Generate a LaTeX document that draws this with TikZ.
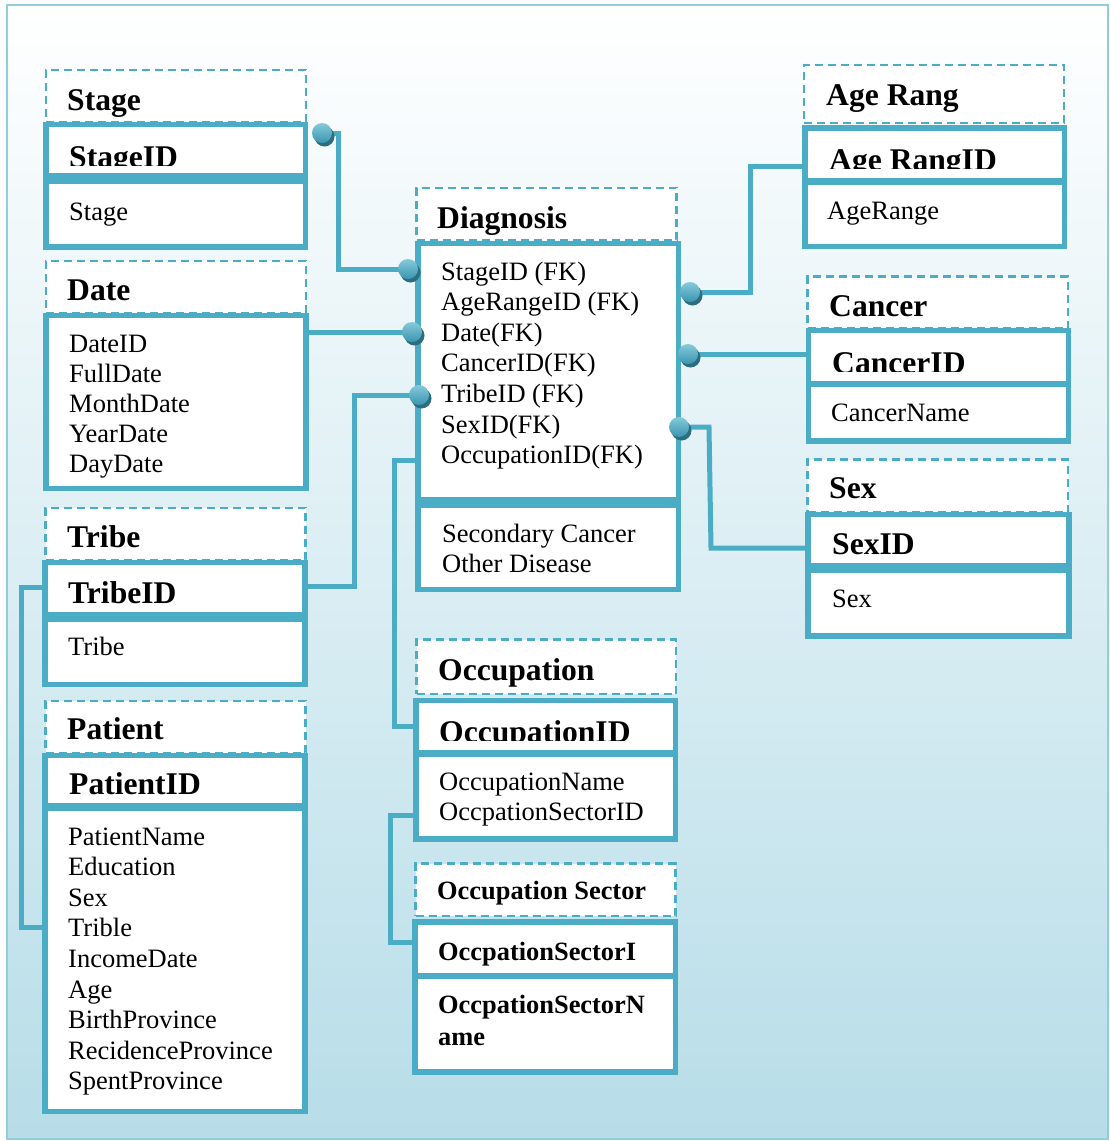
\documentclass[tikz,border=0pt]{standalone}
\usepackage{fontspec}
\setmainfont{Liberation Serif}
\usetikzlibrary{calc}

\definecolor{erline}{HTML}{4BACC6}
\definecolor{erframe}{HTML}{92CDDC}
\definecolor{erbottom}{HTML}{B7DDE8}
\definecolor{erdotlight}{HTML}{86CADB}
\definecolor{erdotdark}{HTML}{3A95AE}
\definecolor{ershadow}{HTML}{2C6E80}

\tikzset{
  entity/.style={draw=erline, line width=5.5pt, fill=white, inner sep=0pt, outer sep=0pt},
  titlebox/.style={draw=erline, line width=2.5pt, dash pattern=on 8pt off 5pt, fill=white, inner sep=0pt, outer sep=0pt},
  link/.style={draw=erline, line width=5pt},
  body/.style={inner sep=0pt, anchor=base west, font=\fontsize{26.5}{30.6}\selectfont},
  head/.style={inner sep=0pt, anchor=base west, font=\fontsize{31.6}{36}\selectfont\bfseries},
  headsmall/.style={inner sep=0pt, anchor=base west, font=\fontsize{26.4}{32}\selectfont\bfseries},
}

% rectangle node given by the centre line of its border: style, name, x1, y1, x2, y2
\newcommand\erbox[6]{%
  \pgfmathsetmacro\erw{#5-#3}%
  \pgfmathsetmacro\erh{#6-#4}%
  \node[#1, minimum width=\erw pt, minimum height=\erh pt] (#2) at ({(#3+#5)/2},{(#4+#6)/2}) {};}

% shaded connector end with its drop shadow
\newcommand\erdot[1]{%
  \fill[ershadow] ($(#1)+(2.5,3.5)$) circle (10pt);
  \shade[top color=erdotlight, bottom color=erdotdark] (#1) circle (10pt);}

\begin{document}
\begin{tikzpicture}[x=1pt, y=-1pt]
\useasboundingbox (0,0) rectangle (1110,1141);

% backdrop
\shade[top color=white, bottom color=erbottom] (7,5) rectangle (1108,1139);
\draw[erframe, line width=2pt] (7,5) rectangle (1108,1139);

% ---------- entity boxes ----------
% Stage
\erbox{titlebox}{stageT}{46}{70}{306}{122}
\erbox{entity}{stageK}{46}{124.5}{305.5}{175.75}
\erbox{entity}{stageA}{46}{181.25}{305.5}{247}
% Date
\erbox{titlebox}{dateT}{46}{261}{306}{313}
\erbox{entity}{dateA}{46}{315.5}{306}{488.5}
% Tribe
\erbox{titlebox}{tribeT}{45.5}{508}{305.5}{560}
\erbox{entity}{tribeK}{45}{562.5}{305}{614.75}
\erbox{entity}{tribeA}{45}{619.25}{305}{684.5}
% Patient
\erbox{titlebox}{patT}{45.5}{701}{305.5}{753}
\erbox{entity}{patK}{45}{755.5}{305}{805.75}
\erbox{entity}{patA}{45}{808.25}{305}{1111.5}
% Diagnosis
\erbox{titlebox}{diagT}{416.5}{188}{676.5}{240}
\erbox{entity}{diagK}{418}{243.5}{678.5}{499.75}
\erbox{entity}{diagA}{418}{505.25}{678.5}{589.5}
% Age Rang
\erbox{titlebox}{ageT}{804}{65}{1064}{123}
\erbox{entity}{ageK}{805}{128}{1064.5}{180.75}
\erbox{entity}{ageA}{805}{182.25}{1064.5}{246.5}
% Cancer
\erbox{titlebox}{canT}{807.5}{276.5}{1068}{328}
\erbox{entity}{canK}{808.5}{330.5}{1068.5}{383.75}
\erbox{entity}{canA}{808.5}{384.25}{1068.5}{441}
% Sex
\erbox{titlebox}{sexT}{807.5}{459.5}{1068}{512}
\erbox{entity}{sexK}{808}{514.5}{1069}{565.75}
\erbox{entity}{sexA}{808}{570.25}{1069}{636}
% Occupation
\erbox{titlebox}{occT}{416.5}{639.5}{676}{694}
\erbox{entity}{occK}{416}{700.5}{675.5}{752.75}
\erbox{entity}{occA}{416}{754.25}{675.5}{839}
% Occupation Sector
\erbox{titlebox}{secT}{415.5}{863.5}{675.5}{916}
\erbox{entity}{secK}{415}{921.75}{675.5}{975.75}
\erbox{entity}{secA}{415}{976.25}{675.5}{1072}

% ---------- texts ----------
\node[head] (tStageT) at (67,110) {Stage};
\begin{scope}
  \clip (49,127) rectangle (303,165);
  \node[head] (tStageK) at (69,167) {StageID};
\end{scope}
\node[body] (tStageA) at (69,220) {Stage};

\node[head] (tDateT) at (67,300) {Date};
\foreach \t [count=\i] in {DateID, FullDate, MonthDate, YearDate, DayDate}
  \node[body] (tDate\i) at (69,{352+(\i-1)*30.2}) {\t};

\node[head] (tTribeT) at (67,547) {Tribe};
\node[head] (tTribeK) at (68,603) {TribeID};
\node[body] (tTribeA) at (68,655) {Tribe};

\node[head] (tPatT) at (67,739) {Patient};
\node[head] (tPatK) at (69,794) {PatientID};
\foreach \t [count=\i] in {PatientName, Education, Sex, Trible, IncomeDate, Age, BirthProvince, RecidenceProvince, SpentProvince}
  \node[body] (tPat\i) at (68,{845+(\i-1)*30.6}) {\t};

\node[head] (tDiagT) at (437,228) {Diagnosis};
\foreach \t [count=\i] in {StageID (FK), AgeRangeID (FK), Date(FK), CancerID(FK), TribeID (FK), SexID(FK), OccupationID(FK)}
  \node[body] (tDiag\i) at (441,{280+(\i-1)*30.6}) {\t};
\node[body] (tDiagA1) at (442,542) {Secondary Cancer};
\node[body] (tDiagA2) at (442,572) {Other Disease};

\node[head] (tAgeT) at (826,105) {Age Rang};
\begin{scope}
  \clip (808,131) rectangle (1062,168);
  \node[head] (tAgeK) at (829,170) {Age RangID};
\end{scope}
\node[body] (tAgeA) at (827,219) {AgeRange};

\node[head] (tCanT) at (829,316) {Cancer};
\begin{scope}
  \clip (811,333) rectangle (1066,371);
  \node[head] (tCanK) at (832,373) {CancerID};
\end{scope}
\node[body] (tCanA) at (831,421) {CancerName};

\node[head] (tSexT) at (829,498) {Sex};
\node[head] (tSexK) at (832,554) {SexID};
\node[body] (tSexA) at (832,607) {Sex};

\node[head] (tOccT) at (438,680) {Occupation};
\begin{scope}
  \clip (419,703) rectangle (673,740);
  \node[head] (tOccK) at (439,742) {OccupationID};
\end{scope}
\node[body] (tOccA1) at (439,790) {OccupationName};
\node[body] (tOccA2) at (439,820) {OccpationSectorID};

\node[headsmall] (tSecT) at (437,899) {Occupation Sector};
\node[headsmall] (tSecK) at (438,960) {OccpationSectorI};
\node[headsmall] (tSecA1) at (438,1013) {OccpationSectorN};
\node[headsmall] (tSecA2) at (438,1045) {ame};

% ---------- relationships ----------
\coordinate (dotStageOut) at (322,133);
\coordinate (dotStageIn) at (408,269);
\coordinate (dotDate) at (412,332);
\coordinate (dotTribe) at (419,395);
\coordinate (dotAge) at (690,292);
\coordinate (dotCancer) at (688,354);
\coordinate (dotSex) at (679,427);

\draw[link] (dotStageOut) -- ++(16,0) |- (dotStageIn);
\draw[link] (dateA.east |- dotDate) -- (dotDate);
\draw[link] (tribeK.east |- 0,586) -| (354,395) -- (dotTribe);
\draw[link] (tribeK.west |- 0,587) -- (21,587) |- (patA.west |- 0,927);
\draw[link] (diagK.west |- 0,460) -- (394,460) |- (occK.west |- 0,726);
\draw[link] (occA.west |- 0,815) -- (390,815) |- (secK.west |- 0,942.5);
\draw[link] (dotAge) -- (750,292) |- (ageK.west |- 0,166);
\draw[link] (dotCancer) -- (canK.west |- dotCancer);
\draw[link] (dotSex) -- (709,427) -- (711,548) -- (sexK.west |- 0,548);

\erdot{dotStageOut}
\erdot{dotStageIn}
\erdot{dotDate}
\erdot{dotTribe}
\erdot{dotAge}
\erdot{dotCancer}
\erdot{dotSex}
\end{tikzpicture}
\end{document}
